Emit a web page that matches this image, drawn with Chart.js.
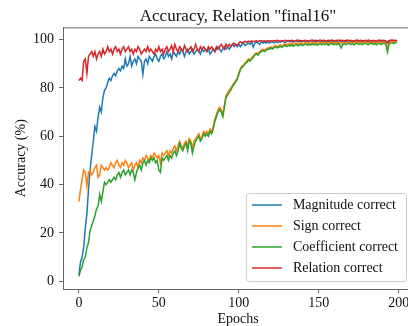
<!DOCTYPE html>
<html>
<head>
<meta charset="utf-8">
<script src="https://cdn.jsdelivr.net/npm/chart.js@4.4.1/dist/chart.umd.min.js"></script>
<style>
  html, body { margin: 0; padding: 0; background: #fff; overflow: hidden; }
  #wrap { width: 408px; height: 326px; overflow: hidden; }
</style>
</head>
<body>
<div id="wrap"><canvas id="myChart" width="420" height="326"></canvas></div>
<script>
// data
var epochs = Array.from({length: 200}, (_, i) => i);

var magnitude = [
  2.8, 8, 10, 14, 22, 28, 38, 46, 52, 58,
  64, 62, 68, 72, 70, 76, 79, 80, 82, 84,
  83, 85, 86, 85, 87, 88, 87, 89, 88, 92,
  89, 90, 93, 89, 91, 92, 90, 93, 92, 91,
  85.5, 91, 92, 90, 93, 92, 91, 93, 94, 92,
  91, 93, 94, 92, 93, 95, 93, 94, 92, 95,
  94, 93, 95, 94, 96, 95, 93, 95, 96, 94,
  95, 96, 94, 95, 96, 95, 94, 96, 95, 96,
  95, 96, 94, 95, 96, 95, 96, 97, 96, 95,
  96, 97, 96, 97, 96, 97, 98, 97, 98, 97,
  98, 97, 98, 98.5, 97.5, 98, 98.5, 98, 99, 96.8,
  98.5, 99, 98.5, 98, 99, 98.5, 99, 98.5, 99, 98.5,
  98.8, 99.1, 98.6, 99.0, 98.7, 99.2, 98.9, 99.3, 99.0, 98.7,
  99.2, 99.4, 99.0, 99.3, 98.9, 99.2, 99.5, 99.1, 99.3, 99.0,
  99.4, 99.2, 99.5, 99.1, 99.3, 99.6, 99.2, 99.4, 99.0, 99.3,
  99.5, 99.2, 99.4, 99.1, 99.3, 99.0, 99.2, 99.4, 99.1, 99.3,
  98.9, 99.2, 99.4, 99.0, 99.3, 99.1, 99.4, 99.2, 99.0, 99.3,
  99.1, 99.4, 99.2, 99.5, 99.1, 99.3, 99.0, 99.2, 99.4, 99.1,
  99.3, 99.0, 99.2, 98.9, 99.1, 99.3, 99.0, 99.2, 99.4, 99.1,
  99.3, 99.5, 98.8, 99.2, 99.4, 99.6, 99.3, 99.5, 99.6, 99.4
];

var sign = [
  33, 38, 42, 46, 45, 39.5, 45, 46, 44, 45,
  47, 48, 43, 44, 48, 47, 46, 47, 46, 47,
  49, 48, 47, 49, 50, 48, 47, 49, 48, 50,
  49, 47, 48, 49, 46, 48, 49, 47, 50, 49,
  51, 50, 52, 51, 50, 52, 51, 53, 52, 51,
  52, 49, 53, 52, 53, 54, 52, 54, 53, 55,
  56, 54, 56, 58, 56, 55, 57, 58, 56, 59,
  58, 55, 58, 59, 60, 61, 59, 60, 62, 61,
  62, 61, 63, 62, 64, 67, 69, 71, 72, 71,
  69, 73, 77, 78, 79, 80, 81, 82, 83, 84,
  86, 88, 89, 89.5, 90.5, 91, 92, 91.5, 92.5, 93,
  94, 94.5, 94, 95, 95.5, 96, 95.5, 96, 96.5, 96.5,
  97, 96.5, 97, 97.5, 97, 97.5, 97.8, 97.4, 97.9, 98.1,
  97.8, 98.2, 98, 98.4, 97.9, 98.3, 98.5, 98.1, 98.4, 98.6,
  98.2, 98.5, 98.7, 98.3, 98.6, 98.4, 98.8, 98.5, 98.7, 98.3,
  98.6, 98.9, 98.5, 98.8, 98.6, 98.9, 98.4, 98.7, 98.9, 98.6,
  98.8, 98.5, 98.9, 98.6, 98.2, 98.7, 98.9, 98.6, 98.8, 99,
  98.7, 98.9, 98.5, 98.8, 99, 98.7, 98.9, 98.6, 98.8, 99.1,
  98.8, 98.6, 98.9, 99.1, 98.7, 98.9, 98.5, 98.8, 99, 98.7,
  98.9, 99.1, 98.6, 96, 98.8, 99, 99.2, 98.9, 99.1, 99.2
];

var coefficient = [
  2, 4.5, 6, 9, 10, 14, 16, 21, 23, 25,
  27, 30, 31, 36, 33, 37, 41, 40, 41, 42,
  41, 42, 43, 42, 44, 45, 43, 45, 46, 44,
  45, 46, 44, 46, 45, 42, 45, 47, 48, 46,
  49, 50, 48, 50, 49, 51, 50, 51, 49, 50,
  46, 45, 51, 50, 51, 52, 50, 52, 51, 53,
  54, 52, 54, 57, 55, 54, 56, 57, 54, 58,
  57, 53, 56, 58, 59, 60, 58, 59, 61, 60,
  61, 60, 62, 61, 63, 66, 68, 70, 71, 70,
  68, 72, 76, 77, 78, 79, 80.5, 81.5, 82.5, 83.5,
  85.5, 87.5, 88.5, 89, 90, 90.5, 91.5, 91, 92, 92.5,
  93.5, 94, 93.5, 94.5, 95, 95.5, 95, 95.5, 96, 96,
  96.5, 96, 96.5, 97, 96.5, 96.8, 97.2, 96.7, 97.3, 97.5,
  97.1, 97.6, 97.3, 97.8, 97.2, 97.6, 97.9, 97.4, 97.7, 98,
  97.5, 97.9, 98.1, 97.6, 98, 97.7, 98.2, 97.8, 98.1, 97.6,
  98, 98.3, 97.8, 98.2, 97.9, 98.3, 97.6, 98.1, 98.4, 97.9,
  98.2, 97.8, 98.3, 97.9, 96.5, 97.9, 98.3, 97.9, 98.2, 98.4,
  98, 98.3, 97.8, 98.2, 98.5, 98, 98.3, 97.9, 98.2, 98.5,
  98.1, 97.9, 98.3, 98.5, 98, 98.3, 97.8, 98.2, 98.4, 98,
  98.3, 98.5, 97.9, 94.8, 98.2, 98.5, 98.7, 98.3, 98.6, 98.8
];

var relation = [
  83, 84, 83, 91, 92, 86, 93, 94, 95, 93,
  95, 92, 94, 95, 93, 96, 94, 95, 97, 95,
  96, 94, 96, 97, 95, 96, 94, 96, 97, 95,
  96, 97, 95, 96, 94, 96, 95, 97, 96, 94,
  95, 96, 95, 97, 95, 96, 95, 94, 96, 95,
  97, 95, 96, 94, 96, 97, 95, 96, 97.5, 95,
  98, 96, 95, 97, 96, 95, 97.5, 96, 95, 96,
  97, 95, 96, 98, 96, 95, 97, 96, 97, 96,
  95, 97, 96, 97, 96, 95, 97, 96, 97, 98,
  97, 96, 98, 97, 98, 97, 98, 98.5, 98, 97.5,
  98.5, 99, 98.5, 99, 99.2, 98.8, 99.3, 99, 99.4, 99.1,
  99.3, 99.5, 99.2, 99.4, 99.6, 99.3, 99.5, 99.2, 99.6, 99.4,
  99.5, 99.3, 99.6, 99.4, 99.7, 99.5, 99.3, 99.6, 99.4, 99.7,
  99.5, 99.6, 99.4, 99.7, 99.5, 99.3, 99.6, 99.8, 99.5, 99.6,
  99.4, 99.7, 99.5, 99.6, 99.3, 99.6, 99.8, 99.5, 99.7, 99.4,
  99.6, 99.8, 99.5, 99.7, 99.6, 99.4, 99.7, 99.5, 99.8, 99.6,
  99.4, 99.7, 99.6, 99.8, 99.5, 99.7, 99.4, 99.6, 99.8, 99.5,
  99.7, 99.5, 99.3, 99.6, 99.8, 99.5, 99.7, 99.6, 99.4, 99.7,
  99.5, 99.8, 99.6, 99.4, 99.7, 99.5, 99.3, 99.6, 99.8, 99.5,
  99.7, 99.6, 99.4, 98.6, 99.5, 99.7, 99.8, 99.6, 99.7, 99.5
];

var seriesNames = ['Magnitude correct', 'Sign correct', 'Coefficient correct', 'Relation correct'];
var seriesColors = ['#1f77b4', '#ff7f0e', '#2ca02c', '#d62728'];
var xTicks = [0, 50, 100, 150, 200];
var yTicks = [0, 20, 40, 60, 80, 100];

var serif = "'Liberation Serif', 'DejaVu Serif', serif";

// top spine + matplotlib style legend
var framePlugin = {
  id: 'frame',
  afterDraw: function(chart) {
    var ctx = chart.ctx;
    var a = chart.chartArea;
    ctx.save();
    ctx.strokeStyle = '#666';
    ctx.lineWidth = 1;
    ctx.beginPath();
    ctx.moveTo(a.left, a.top + 0.5);
    ctx.lineTo(a.right, a.top + 0.5);
    ctx.moveTo(a.right - 0.5, a.top);
    ctx.lineTo(a.right - 0.5, a.bottom);
    ctx.stroke();

    // legend
    ctx.font = '14px ' + serif;
    var maxW = 0;
    seriesNames.forEach(function(n) { maxW = Math.max(maxW, ctx.measureText(n).width); });
    var rowH = 21;
    var w = 47 + maxW + 8;
    var h = rowH * seriesNames.length + 4;
    var x = a.right - 7 - w;
    var y = a.bottom - 8 - h;
    ctx.fillStyle = 'rgba(255,255,255,0.8)';
    ctx.strokeStyle = '#cccccc';
    ctx.beginPath();
    ctx.roundRect(x + 0.5, y + 0.5, w, h, 3);
    ctx.fill();
    ctx.stroke();
    ctx.textBaseline = 'middle';
    ctx.textAlign = 'left';
    seriesNames.forEach(function(n, i) {
      var cy = y + 12 + i * rowH;
      ctx.strokeStyle = seriesColors[i];
      ctx.lineWidth = 1.5;
      ctx.beginPath();
      ctx.moveTo(x + 6, cy);
      ctx.lineTo(x + 36, cy);
      ctx.stroke();
      ctx.fillStyle = '#111';
      ctx.fillText(n, x + 47, cy);
    });
    ctx.restore();
  }
};

var series = [magnitude, sign, coefficient, relation];

new Chart(document.getElementById('myChart').getContext('2d'), {
  type: 'line',
  data: {
    labels: epochs,
    datasets: series.map(function(s, i) {
      return {
        label: seriesNames[i],
        data: s,
        borderColor: seriesColors[i],
        backgroundColor: seriesColors[i],
        borderWidth: 1.5,
        pointRadius: 0,
        tension: 0,
        fill: false,
        order: 3 - i
      };
    })
  },
  options: {
    responsive: false,
    animation: false,
    layout: { padding: { left: 0, right: 7, top: 0, bottom: 0 } },
    plugins: {
      legend: { display: false },
      tooltip: { enabled: false },
      title: {
        display: true,
        fullSize: false,
        text: 'Accuracy, Relation "final16"',
        color: '#111',
        font: { family: serif, size: 17, weight: 'normal' },
        padding: { top: 6, bottom: 1 }
      }
    },
    scales: {
      x: {
        type: 'linear',
        min: -9.95,
        max: 208.95,
        afterBuildTicks: function(axis) { axis.ticks = xTicks.map(function(v) { return { value: v }; }); },
        afterFit: function(axis) { axis.height = 37; },
        grid: { display: true, drawOnChartArea: false, drawTicks: true, tickLength: 4, color: '#666' },
        border: { display: true, color: '#666' },
        ticks: { color: '#111', padding: 2, maxRotation: 0, font: { family: serif, size: 14 } },
        title: { display: true, text: 'Epochs', color: '#111', font: { family: serif, size: 14 }, padding: { top: 0, bottom: -2 } }
      },
      y: {
        min: -3.2,
        max: 105,
        afterBuildTicks: function(axis) { axis.ticks = yTicks.map(function(v) { return { value: v }; }); },
        afterFit: function(axis) { axis.width = 63; },
        grid: { display: true, drawOnChartArea: false, drawTicks: true, tickLength: 4, color: '#666' },
        border: { display: true, color: '#666' },
        ticks: { color: '#111', padding: 5, font: { family: serif, size: 14 } },
        title: { display: true, text: 'Accuracy (%)', color: '#111', font: { family: serif, size: 14 }, padding: { top: 13, bottom: 0 } }
      }
    }
  },
  plugins: [framePlugin]
});
</script>
</body>
</html>
